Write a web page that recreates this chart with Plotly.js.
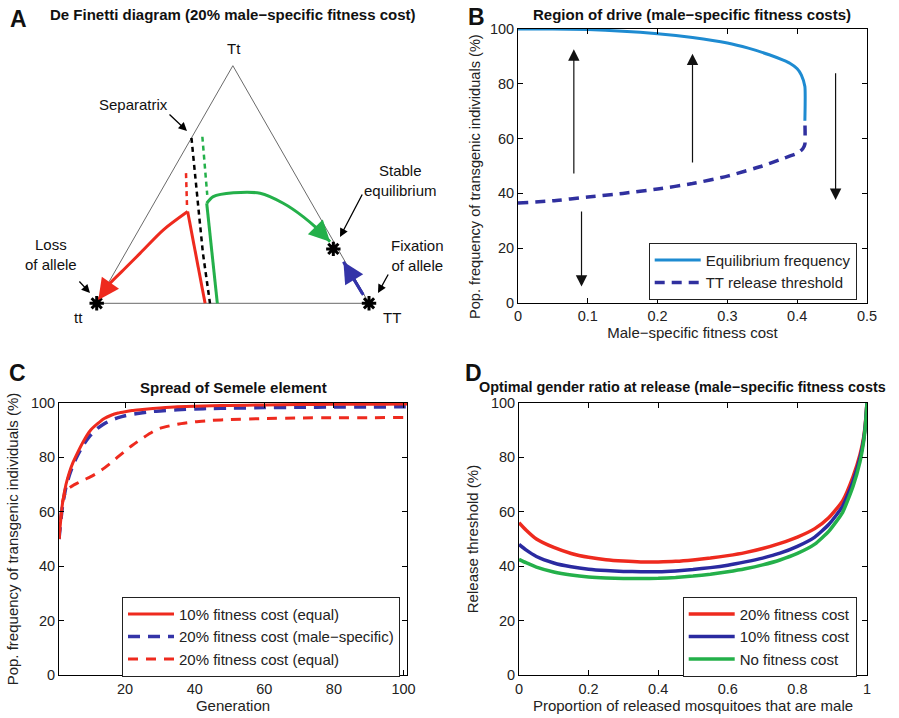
<!DOCTYPE html>
<html><head><meta charset="utf-8">
<script src="https://cdn.plot.ly/plotly-3.0.1.min.js"></script>
<style>html,body{margin:0;padding:0;background:#fff}#chart{width:899px;height:718px}</style>
</head><body><div id="chart"></div><script>
// ---------- Panel A: De Finetti diagram (x = frequency of allele T, y = frequency of Tt) ----------
const triangleP = [0, 1, 0.5, 0];
const triangleH = [0, 0, 1, 0];
const separatrixP = [0.348, 0.361, 0.376, 0.390, 0.416];
const separatrixH = [0.696, 0.532, 0.372, 0.212, 0.0];
const redDashP = [0.328, 0.332];
const redDashH = [0.548, 0.397];
const redTrajP = [0.398, 0.334, 0.245, 0.159, 0.098, 0.049, 0.006];
const redTrajH = [0.0, 0.386, 0.309, 0.210, 0.140, 0.084, 0.014];
const greenDashP = [0.388, 0.406];
const greenDashH = [0.701, 0.456];
const greenTrajP = [0.443, 0.404, 0.428, 0.502, 0.600, 0.685, 0.759, 0.808, 0.857];
const greenTrajH = [0.0, 0.421, 0.449, 0.465, 0.463, 0.421, 0.364, 0.316, 0.259];
const blueTrajP = [0.979, 0.906];
const blueTrajH = [0.035, 0.175];
const equilibriaP = [0, 1, 0.869];
const equilibriaH = [0, 0, 0.229];

// ---------- Panel B: region of drive ----------
const eqCost = [0, 0.05, 0.1, 0.15, 0.2, 0.25, 0.3, 0.33, 0.36, 0.38, 0.39, 0.4, 0.406, 0.411, 0.411];
const eqFreq = [100, 100, 99.8, 99.2, 98.3, 96.9, 94.9, 93.0, 90.6, 88.6, 87.4, 85.5, 83.2, 79.0, 66.5];
const thrCost = [0, 0.05, 0.1, 0.15, 0.2, 0.25, 0.3, 0.35, 0.38, 0.4, 0.408, 0.411, 0.411];
const thrFreq = [36.5, 37.3, 38.7, 40.0, 41.6, 43.6, 46.3, 50.0, 52.8, 54.6, 56.3, 58.0, 66.5];
const driveArrowCost = [0.08, 0.25, 0.455, 0.091];
const driveArrowFrom = [46.7, 50.7, 84.4, 33.9];
const driveArrowTo = [92.6, 91.0, 37.6, 6.0];

// ---------- Panel C: spread of Semele element ----------
const generations = [1, 2, 3, 4, 5, 6, 8, 10, 12, 14, 16, 18, 20, 22, 25, 28, 30, 35, 40, 45, 50, 60, 70, 80, 90, 100, 101];
const cost10Equal = [50, 63, 70, 74.5, 78, 80.8, 85.8, 89.8, 92.2, 94.2, 95.4, 96.2, 96.7, 97.1, 97.5, 97.9, 98.1, 98.5, 98.7, 98.9, 99.0, 99.2, 99.3, 99.4, 99.4, 99.5, 99.5];
const cost20Male = [50, 62, 69, 73.5, 77, 79.8, 84.5, 88, 90.5, 92.3, 93.6, 94.5, 95.2, 95.7, 96.3, 96.8, 97.0, 97.4, 97.7, 97.9, 98.0, 98.2, 98.3, 98.4, 98.4, 98.5, 98.5];
const cost20Equal = [50, 63.5, 67.5, 68.8, 69.6, 70.3, 71.6, 72.8, 74.2, 76.0, 78.0, 80.2, 82.3, 84.3, 87.0, 89.4, 90.6, 92.1, 93.0, 93.5, 93.8, 94.2, 94.4, 94.5, 94.5, 94.6, 94.6];

// ---------- Panel D: optimal gender ratio ----------
const maleProp = [0, 0.02, 0.05, 0.1, 0.15, 0.2, 0.25, 0.3, 0.35, 0.4, 0.45, 0.5, 0.55, 0.6, 0.65, 0.7, 0.75, 0.8, 0.85, 0.89, 0.93, 0.96, 0.98, 0.99, 0.995, 1];
const thr20 = [56, 53.3, 50, 46.9, 44.7, 43.3, 42.4, 41.9, 41.6, 41.6, 41.8, 42.3, 43.0, 43.9, 45.0, 46.5, 48.4, 50.7, 53.8, 57.8, 64.0, 72.9, 81, 87, 92, 100];
const thr10 = [48, 46, 43.6, 41.2, 39.8, 38.9, 38.4, 38.1, 38.0, 38.0, 38.3, 38.8, 39.5, 40.4, 41.6, 43.0, 44.8, 47.3, 50.7, 55.3, 62.0, 71.2, 79.8, 86.2, 91.5, 100];
const thr0 = [42.5, 41.3, 39.7, 37.9, 36.8, 36.1, 35.7, 35.5, 35.5, 35.6, 35.9, 36.4, 37.1, 38.0, 39.1, 40.5, 42.3, 44.7, 48.1, 52.8, 59.8, 69.4, 78.4, 85.5, 91, 100];

const F = 'Liberation Sans, Arial, Helvetica, sans-serif';
const W = 899, H = 718;
const PX = x => x / W, PY = y => 1 - y / H;

const RED = '#ee2a1e', NAVY = '#30309f', LBLUE = '#1e8bd1', GREEN = '#24b04a', BLUE = '#3434a8';

const traces = [];
function A(x, y, line, extra) {
  traces.push(Object.assign({x, y, xaxis: 'x4', yaxis: 'y4', mode: 'lines', line, showlegend: false, hoverinfo: 'skip'}, extra || {}));
}
A(triangleP, triangleH, {color: '#6a6a6a', width: 1});
A(redDashP, redDashH, {color: RED, width: 2.5, dash: '5px,4px'});
A(greenDashP, greenDashH, {color: GREEN, width: 2.5, dash: '5px,4px'});
// red trajectory: straight rise from the base, then a curved fall to tt
A(redTrajP.slice(0, 2), redTrajH.slice(0, 2), {color: RED, width: 3});
A(redTrajP.slice(1), redTrajH.slice(1), {color: RED, width: 3, shape: 'spline', smoothing: 0.8});
// green trajectory: straight rise, then a curved path to the stable equilibrium
A(greenTrajP.slice(0, 2), greenTrajH.slice(0, 2), {color: GREEN, width: 3});
A(greenTrajP.slice(1), greenTrajH.slice(1), {color: GREEN, width: 3, shape: 'spline', smoothing: 0.8});
A(separatrixP, separatrixH, {color: '#000', width: 2.5, dash: '5px,4px'});
A(blueTrajP, blueTrajH, {color: BLUE, width: 3});
traces.push({x: equilibriaP, y: equilibriaH, xaxis: 'x4', yaxis: 'y4', mode: 'markers', showlegend: false, hoverinfo: 'skip',
  marker: {symbol: 'asterisk-open', size: 12, color: '#000', line: {color: '#000', width: 3}}});

// Panel B
traces.push({x: eqCost, y: eqFreq, xaxis: 'x', yaxis: 'y', mode: 'lines', name: 'Equilibrium frequency', legend: 'legend',
  line: {color: LBLUE, width: 3, shape: 'spline', smoothing: 0.5}});
traces.push({x: thrCost, y: thrFreq, xaxis: 'x', yaxis: 'y', mode: 'lines', name: 'TT release threshold', legend: 'legend',
  line: {color: NAVY, width: 3.5, dash: '10px,7px', shape: 'spline', smoothing: 0.5}});

// Panel C
traces.push({x: generations, y: cost20Male, xaxis: 'x2', yaxis: 'y2', mode: 'lines', name: '20% fitness cost (male\u2212specific)', legend: 'legend2', legendrank: 2,
  line: {color: BLUE, width: 3.5, dash: '12px,8px', shape: 'spline', smoothing: 0.6}});
traces.push({x: generations, y: cost20Equal, xaxis: 'x2', yaxis: 'y2', mode: 'lines', name: '20% fitness cost (equal)', legend: 'legend2', legendrank: 3,
  line: {color: RED, width: 3, dash: '10px,8px', shape: 'spline', smoothing: 0.6}});
traces.push({x: generations, y: cost10Equal, xaxis: 'x2', yaxis: 'y2', mode: 'lines', name: '10% fitness cost (equal)', legend: 'legend2', legendrank: 1,
  line: {color: RED, width: 3, shape: 'spline', smoothing: 0.6}});

// Panel D
traces.push({x: maleProp, y: thr20, xaxis: 'x3', yaxis: 'y3', mode: 'lines', name: '20% fitness cost', legend: 'legend3', line: {color: RED, width: 3.5, shape: 'spline', smoothing: 0.5}});
traces.push({x: maleProp, y: thr10, xaxis: 'x3', yaxis: 'y3', mode: 'lines', name: '10% fitness cost', legend: 'legend3', line: {color: '#2a2aa0', width: 3.5, shape: 'spline', smoothing: 0.5}});
traces.push({x: maleProp, y: thr0, xaxis: 'x3', yaxis: 'y3', mode: 'lines', name: 'No fitness cost', legend: 'legend3', line: {color: GREEN, width: 3.5, shape: 'spline', smoothing: 0.5}});

const axisBase = {showline: true, linecolor: '#000', linewidth: 1, mirror: 'ticks', ticks: 'inside', ticklen: 5,
  tickcolor: '#000', tickwidth: 1, showgrid: false, zeroline: false, fixedrange: true,
  tickfont: {family: F, size: 14.5, color: '#222'}};
const tFont = {family: F, size: 15, color: '#222'};
function ax(o) { return Object.assign({}, axisBase, o); }

const legBase = {bordercolor: '#222', borderwidth: 1, bgcolor: '#fff', font: {family: F, size: 15, color: '#222'},
  itemwidth: 46, tracegroupgap: 0, xanchor: 'right', yanchor: 'top'};

const ann = [];
function txt(text, x, y, size, opts) {
  ann.push(Object.assign({text, x: PX(x), y: PY(y), xref: 'paper', yref: 'paper', showarrow: false,
    font: {family: F, size, color: '#111'}, xanchor: 'center', yanchor: 'middle'}, opts || {}));
}
// Panel letters
txt('<b>A</b>', 18, 19, 23); txt('<b>B</b>', 477, 17, 23); txt('<b>C</b>', 17, 373, 23); txt('<b>D</b>', 473, 373, 23);
// Panel titles
txt('<b>De Finetti diagram (20% male\u2212specific fitness cost)</b>', 233, 14, 15);
txt('<b>Region of drive (male\u2212specific fitness costs)</b>', 692, 14, 15);
txt('<b>Spread of Semele element</b>', 233, 387, 15);
txt('<b>Optimal gender ratio at release (male\u2212specific fitness costs</b>', 477, 387, 14.4, {xanchor: 'left'});
// Panel B y-axis title (sits a little below the plot centre in the original)
txt('Pop. frequency of transgenic individuals (%)', 475, 176, 14.6, {textangle: -90, font: {family: F, size: 14.6, color: '#222'}});
// Panel A labels
txt('Tt', 234, 49, 15); txt('Separatrix', 133, 104, 15);
txt('Stable<br>equilibrium', 400, 181, 15); txt('Loss<br>of allele', 51, 255, 15); txt('Fixation<br>of allele', 417, 256, 15);
txt('tt', 78, 317, 15); txt('TT', 392, 317, 15);
// Panel A pointer arrows
function ptr(tx, ty, fx, fy) {
  ann.push({text: '', x: PX(tx), y: PY(ty), xref: 'paper', yref: 'paper', ax: fx - tx, ay: fy - ty, showarrow: true,
    arrowhead: 2, arrowsize: 1.3, arrowwidth: 1.3, arrowcolor: '#000'});
}
ptr(187, 131, 168, 113); ptr(340, 237, 363, 193); ptr(90, 293, 78, 280); ptr(378, 293, 389, 273);
// trajectory arrowheads
function head(P, Hh, color) {
  const n = P.length;
  ann.push({text: '', x: P[n - 1], y: Hh[n - 1], ax: P[n - 2], ay: Hh[n - 2], xref: 'x4', yref: 'y4', axref: 'x4', ayref: 'y4',
    showarrow: true, arrowhead: 2, arrowsize: 1.4, arrowwidth: 3, arrowcolor: color});
}
head(redTrajP, redTrajH, RED); head(greenTrajP, greenTrajH, GREEN); head(blueTrajP, blueTrajH, BLUE);
// Panel B direction arrows
driveArrowCost.forEach((c, i) => {
  ann.push({text: '', x: c, y: driveArrowTo[i], ax: c, ay: driveArrowFrom[i], xref: 'x', yref: 'y', axref: 'x', ayref: 'y',
    showarrow: true, arrowhead: 2, arrowsize: 1.9, arrowwidth: 1.2, arrowcolor: '#111'});
});

const layout = {
  width: W, height: H, margin: {l: 0, r: 0, t: 0, b: 0}, paper_bgcolor: '#fff', plot_bgcolor: '#fff',
  font: {family: F, color: '#222'},
  xaxis: ax({domain: [PX(518), PX(867)], range: [0, 0.5], dtick: 0.1, anchor: 'y',
    title: {text: 'Male\u2212specific fitness cost', font: tFont, standoff: 2}}),
  yaxis: ax({domain: [PY(303), PY(29)], range: [0, 100], dtick: 20, anchor: 'x'}),
  xaxis2: ax({domain: [PX(59), PX(407)], range: [1, 101], tickvals: [20, 40, 60, 80, 100], anchor: 'y2',
    title: {text: 'Generation', font: tFont, standoff: 2}}),
  yaxis2: ax({domain: [PY(675.3), PY(402.7)], range: [0, 100], dtick: 20, anchor: 'x2',
    title: {text: 'Pop. frequency of transgenic individuals (%)', font: tFont, standoff: 8}}),
  xaxis3: ax({domain: [PX(519), PX(867)], range: [0, 1], dtick: 0.2, anchor: 'y3',
    title: {text: 'Proportion of released mosquitoes that are male', font: tFont, standoff: 2}}),
  yaxis3: ax({domain: [PY(675.3), PY(402.7)], range: [0, 100], dtick: 20, anchor: 'x3',
    title: {text: 'Release threshold (%)', font: tFont, standoff: 8}}),
  xaxis4: {domain: [0, 0.5], range: [-0.3551, 1.2956], visible: false, fixedrange: true, anchor: 'y4'},
  yaxis4: {domain: [0.5, 1], range: [-0.2344, 1.2765], visible: false, fixedrange: true, anchor: 'x4'},
  legend: Object.assign({}, legBase, {x: PX(856.7), y: PY(242.7)}),
  legend2: Object.assign({}, legBase, {x: PX(400), y: PY(596.7), traceorder: 'normal'}),
  legend3: Object.assign({}, legBase, {x: PX(856.7), y: PY(596.7)}),
  annotations: ann,
  showlegend: true
};

Plotly.newPlot('chart', traces, layout, {displayModeBar: false, staticPlot: true});
</script></body></html>
